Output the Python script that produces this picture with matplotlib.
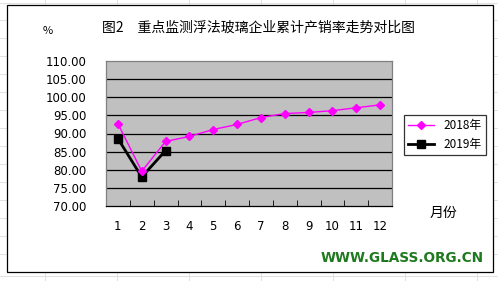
import numpy as np
import matplotlib.pyplot as plt
from matplotlib.patches import Rectangle
from matplotlib.lines import Line2D

plt.rcParams['font.family'] = ['Noto Sans CJK SC', 'DejaVu Sans']

months = ['1', '2', '3', '4', '5', '6', '7', '8', '9', '10', '11', '12']
rate_2018 = [92.7, 79.6, 87.8, 89.2, 91.1, 92.5, 94.4, 95.5, 95.8, 96.3, 97.1, 97.9]
rate_2019 = [88.6, 78.0, 85.3]
yticks = [70, 75, 80, 85, 90, 95, 100, 105, 110]

W, H = 498, 281
fig = plt.figure(figsize=(W / 100, H / 100), dpi=100)
fig.patch.set_facecolor('white')

# spreadsheet cell lines behind the chart
for gx in [45, 117, 189, 261, 333, 405, 477]:
    fig.add_artist(Line2D([gx / W, gx / W], [0, 1], color='#dcdcdc', lw=0.6, zorder=-3))
for gy in [3, 20, 38, 56, 74, 92, 110, 128, 146, 164, 182, 200, 218, 236, 254, 276]:
    fig.add_artist(Line2D([0, 1], [1 - gy / H, 1 - gy / H], color='#dcdcdc', lw=0.6, zorder=-3))

# chart frame
fig.add_artist(Rectangle((7 / W, 1 - 272 / H), (493 - 7) / W, (272 - 5) / H,
                         facecolor='white', edgecolor='black', lw=0.9, zorder=-2))

x0, x1, y0, y1 = 106, 392, 61, 206
ax = fig.add_axes([x0 / W, 1 - y1 / H, (x1 - x0) / W, (y1 - y0) / H])
ax.set_facecolor('#c0c0c0')
x = np.arange(1, 13)
for v in yticks[1:-1]:
    ax.axhline(v, color='black', lw=0.9, zorder=1)
l18, = ax.plot(x, rate_2018, color='#ff00ff', lw=1, marker='D', ms=4.5, zorder=3, label='2018年')
l19, = ax.plot(x[:len(rate_2019)], rate_2019, color='black', lw=2, marker='s', ms=6, zorder=2,
               label='2019年')
ax.set_xlim(0.5, 12.5)
ax.set_ylim(70, 110)
ax.set_yticks(yticks)
ax.set_yticklabels(['%.2f' % v for v in yticks], fontsize=8.5, family='DejaVu Sans')
ax.set_xticks(x)
ax.set_xticklabels(months, fontsize=8.5, family='DejaVu Sans')
ax.set_xticks(np.arange(1.5, 12.5, 1), minor=True)
ax.tick_params(axis='x', which='major', length=0, pad=10)
ax.tick_params(axis='x', which='minor', length=4, direction='in', color='black')
ax.tick_params(axis='y', length=0, pad=14)
for s in ax.spines.values():
    s.set_color('#808080')
    s.set_linewidth(0.9)
ax.spines['bottom'].set_color('black')

leg = fig.legend(handles=[l18, l19], loc='upper left',
                 bbox_to_anchor=(404 / W, 1 - 115 / H), fontsize=8.5,
                 frameon=True, fancybox=False, edgecolor='black', borderpad=0.35,
                 handlelength=2.2, labelspacing=0.5, borderaxespad=0)
leg.get_frame().set_linewidth(0.9)

fig.text(258 / W, 1 - 27 / H, '图2　重点监测浮法玻璃企业累计产销率走势对比图',
         ha='center', va='center', fontsize=10)
fig.text(48 / W, 1 - 31 / H, '%', ha='center', va='center', fontsize=8)
fig.text(443 / W, 1 - 213 / H, '月份', ha='center', va='center', fontsize=10)
fig.text(484 / W, 1 - 258 / H, 'WWW.GLASS.ORG.CN', ha='right', va='center',
         fontsize=9.8, fontweight='heavy', color='#1e7a1e', family='DejaVu Sans')

fig.savefig('out.png', dpi=100)
